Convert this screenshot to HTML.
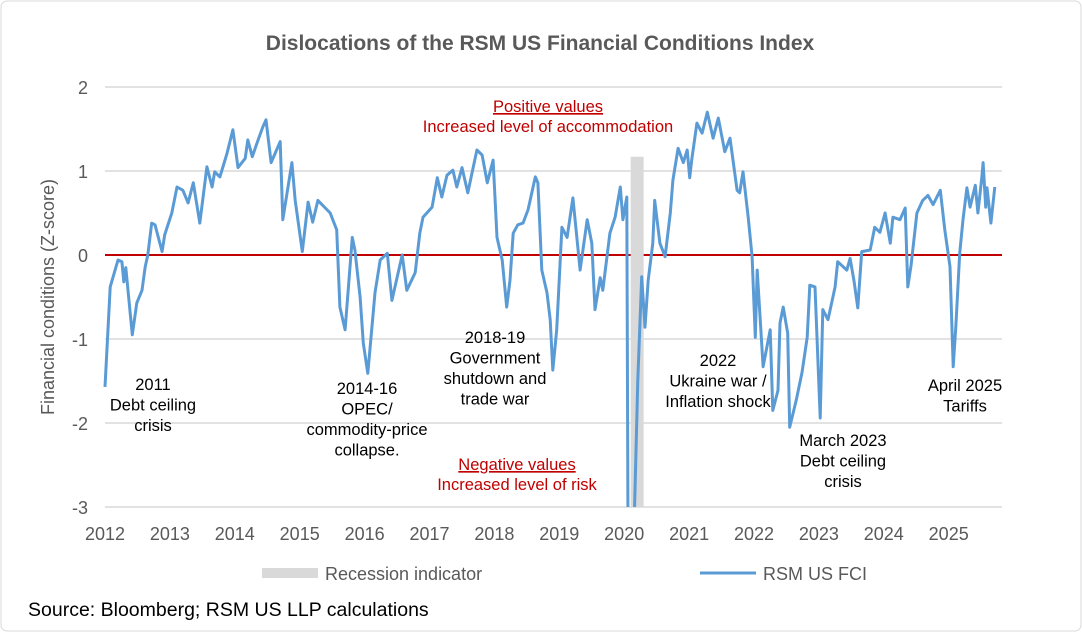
<!DOCTYPE html>
<html><head><meta charset="utf-8"><style>
body{margin:0;background:#fff;}
svg{display:block;font-family:"Liberation Sans",Arial,sans-serif;}
</style></head><body>
<svg id="chart" width="1082" height="632" viewBox="0 0 1082 632">
<rect x="1" y="1" width="1080" height="630" rx="6" fill="#fff" stroke="#d9d9d9"/>
<text x="540" y="50" text-anchor="middle" font-size="21" font-weight="bold" fill="#595959">Dislocations of the RSM US Financial Conditions Index</text>
<text transform="translate(54,297) rotate(-90)" text-anchor="middle" font-size="18" fill="#595959">Financial conditions (Z-score)</text>
<g id="grid"></g>
<g id="recession"></g>
<g id="series"></g>
<g id="ticks"></g>
<g font-size="16.5" fill="#000" text-anchor="middle">
<text x="153" y="390"><tspan x="153">2011</tspan><tspan x="153" dy="20.5">Debt ceiling</tspan><tspan x="153" dy="20.5">crisis</tspan></text>
<text x="367" y="394"><tspan x="367">2014-16</tspan><tspan x="367" dy="20.5">OPEC/</tspan><tspan x="367" dy="20.5">commodity-price</tspan><tspan x="367" dy="20.5">collapse.</tspan></text>
<text x="495" y="343"><tspan x="495">2018-19</tspan><tspan x="495" dy="20.5">Government</tspan><tspan x="495" dy="20.5">shutdown and</tspan><tspan x="495" dy="20.5">trade war</tspan></text>
<text x="718" y="366"><tspan x="718">2022</tspan><tspan x="718" dy="20.5">Ukraine war /</tspan><tspan x="718" dy="20.5">Inflation shock</tspan></text>
<text x="843" y="446"><tspan x="843">March 2023</tspan><tspan x="843" dy="20.5">Debt ceiling</tspan><tspan x="843" dy="20.5">crisis</tspan></text>
<text x="965" y="391"><tspan x="965">April 2025</tspan><tspan x="965" dy="20.5">Tariffs</tspan></text>
</g>
<g font-size="16.5" fill="#c00000" text-anchor="middle">
<text x="548" y="112" text-decoration="underline">Positive values</text>
<text x="548" y="132">Increased level of accommodation</text>
<text x="517" y="470" text-decoration="underline">Negative values</text>
<text x="517" y="490">Increased level of risk</text>
</g>
<g>
<rect x="262" y="568" width="56" height="10" fill="#d9d9d9"/>
<text x="325" y="580" font-size="18" fill="#595959">Recession indicator</text>
<line x1="700" y1="573" x2="756" y2="573" stroke="#5b9bd5" stroke-width="3"/>
<text x="763" y="580" font-size="18" fill="#595959">RSM US FCI</text>
</g>
<text x="28" y="616" font-size="19.5" fill="#000">Source: Bloomberg; RSM US LLP calculations</text>
</svg>
<script>
const yTicks=[2,1,0,-1,-2,-3];
const xTickYears=[2012,2013,2014,2015,2016,2017,2018,2019,2020,2021,2022,2023,2024,2025];
const recessionStart=[2020.10];
const recessionEnd=[2020.30];
const recessionHeight=[1.17];
const dates=[2012.00,2012.08,2012.20,2012.26,2012.29,2012.32,2012.42,2012.49,2012.57,2012.62,2012.66,2012.72,2012.77,2012.88,2012.92,2013.03,2013.11,2013.20,2013.28,2013.36,2013.46,2013.57,2013.65,2013.69,2013.77,2013.88,2013.97,2014.05,2014.16,2014.20,2014.27,2014.34,2014.43,2014.48,2014.56,2014.70,2014.74,2014.88,2014.93,2015.04,2015.13,2015.20,2015.28,2015.47,2015.57,2015.62,2015.70,2015.81,2015.85,2015.93,2015.98,2016.05,2016.16,2016.24,2016.35,2016.42,2016.58,2016.65,2016.78,2016.85,2016.90,2017.04,2017.12,2017.19,2017.27,2017.36,2017.42,2017.50,2017.59,2017.73,2017.81,2017.89,2017.98,2018.04,2018.12,2018.19,2018.24,2018.29,2018.36,2018.44,2018.52,2018.63,2018.67,2018.73,2018.81,2018.86,2018.90,2018.96,2019.04,2019.12,2019.21,2019.32,2019.43,2019.50,2019.55,2019.63,2019.67,2019.78,2019.86,2019.94,2019.98,2020.04,2020.06,2020.14,2020.21,2020.27,2020.32,2020.37,2020.44,2020.47,2020.55,2020.63,2020.71,2020.75,2020.83,2020.91,2020.97,2021.01,2021.04,2021.12,2021.20,2021.28,2021.37,2021.45,2021.55,2021.63,2021.74,2021.78,2021.83,2021.91,2021.97,2022.02,2022.05,2022.14,2022.25,2022.29,2022.37,2022.40,2022.45,2022.52,2022.55,2022.65,2022.74,2022.82,2022.86,2022.94,2023.02,2023.06,2023.14,2023.25,2023.29,2023.43,2023.48,2023.54,2023.60,2023.66,2023.79,2023.86,2023.94,2024.02,2024.10,2024.14,2024.25,2024.33,2024.37,2024.42,2024.51,2024.60,2024.68,2024.76,2024.87,2024.94,2025.02,2025.07,2025.11,2025.17,2025.22,2025.28,2025.33,2025.41,2025.45,2025.51,2025.53,2025.57,2025.59,2025.65,2025.71,2025.82];
const fciValues=[-1.57,-0.38,-0.06,-0.08,-0.32,-0.15,-0.95,-0.57,-0.42,-0.14,0.00,0.38,0.36,0.04,0.24,0.50,0.81,0.77,0.62,0.86,0.38,1.05,0.81,0.99,0.93,1.21,1.49,1.04,1.15,1.37,1.17,1.33,1.52,1.61,1.10,1.35,0.42,1.10,0.65,0.04,0.63,0.39,0.65,0.50,0.30,-0.62,-0.89,0.21,0.06,-0.50,-1.05,-1.41,-0.45,-0.06,0.02,-0.54,0.00,-0.42,-0.21,0.26,0.45,0.57,0.92,0.69,0.95,1.01,0.81,1.04,0.74,1.25,1.19,0.86,1.13,0.21,-0.06,-0.62,-0.30,0.26,0.36,0.38,0.54,0.93,0.86,-0.18,-0.45,-0.77,-1.37,-0.89,0.33,0.21,0.68,-0.18,0.42,0.14,-0.65,-0.27,-0.42,0.26,0.45,0.81,0.42,0.69,-3.6,-3.6,-1.49,-0.26,-0.86,-0.30,0.14,0.65,0.14,-0.02,0.50,0.89,1.27,1.10,1.25,0.92,1.13,1.57,1.45,1.70,1.39,1.63,1.23,1.39,0.77,0.74,0.99,0.45,-0.02,-0.98,-0.18,-1.33,-0.89,-1.85,-1.61,-0.81,-0.62,-0.93,-2.05,-1.73,-1.40,-0.98,-0.36,-0.38,-1.94,-0.65,-0.77,-0.38,-0.08,-0.18,-0.04,-0.30,-0.63,0.04,0.06,0.33,0.27,0.50,0.14,0.45,0.42,0.56,-0.38,-0.12,0.50,0.65,0.71,0.60,0.77,0.30,-0.14,-1.33,-0.86,0.02,0.42,0.80,0.57,0.83,0.50,0.92,1.10,0.57,0.80,0.38,0.81];

const NS='http://www.w3.org/2000/svg';
const X0=105,PX_PER_YEAR=64.9,Y0=255,PX_PER_UNIT=84,XR=1002;
const xS=d=>X0+(d-2012)*PX_PER_YEAR;
const yS=v=>Y0-v*PX_PER_UNIT;
function mk(tag,attrs,parent){const e=document.createElementNS(NS,tag);for(const k in attrs)e.setAttribute(k,attrs[k]);parent.appendChild(e);return e;}
const svg=document.getElementById('chart');
const defs=mk('defs',{},svg);
const cp=mk('clipPath',{id:'plotclip'},defs);
mk('rect',{x:X0-2,y:yS(2.2),width:XR-X0+6,height:yS(-3)-yS(2.2)},cp);

const grid=document.getElementById('grid');
yTicks.forEach(t=>{
  if(t!==0){
    const l=mk('line',{x1:X0,x2:XR,y1:yS(t),y2:yS(t),stroke:'#d9d9d9','stroke-width':1.5},grid);
    
    
  }
  const tx=mk('text',{x:88,y:yS(t)+7,'text-anchor':'end','font-size':18,fill:'#595959'},grid);
  tx.textContent=String(t);
  
  
});
const ticks=document.getElementById('ticks');
xTickYears.forEach(y=>{
  const tx=mk('text',{x:xS(y),y:540,'text-anchor':'middle','font-size':18,fill:'#595959'},ticks);
  tx.textContent=String(y);
  
  
});
const rec=document.getElementById('recession');
recessionStart.forEach((s,i)=>{
  const r=mk('rect',{x:xS(s),y:yS(recessionHeight[i]),width:xS(recessionEnd[i])-xS(s),height:yS(-3)-yS(recessionHeight[i]),fill:'#d9d9d9'},rec);
  
  
});
const zl=mk('line',{x1:X0,x2:XR,y1:yS(0),y2:yS(0),stroke:'#c00000','stroke-width':2},grid);


const ser=document.getElementById('series');
const pts=dates.map((d,i)=>xS(d).toFixed(1)+','+yS(fciValues[i]).toFixed(1)).join(' ');
const pl=mk('polyline',{points:pts,fill:'none',stroke:'#5b9bd5','stroke-width':3,'stroke-linejoin':'round','clip-path':'url(#plotclip)'},ser);


</script>
</body></html>
